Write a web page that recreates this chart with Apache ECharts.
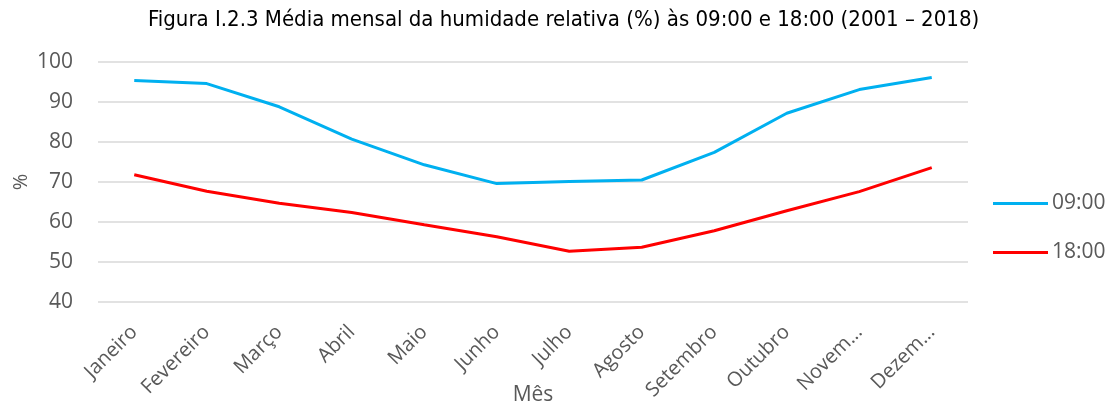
<!DOCTYPE html>
<html>
<head>
<meta charset="utf-8">
<script src="https://cdn.jsdelivr.net/npm/echarts@6/dist/echarts.min.js"></script>
<style>html,body{margin:0;padding:0;background:#fff;overflow:hidden}#c{width:1114px;height:405px}</style>
</head>
<body>
<div id="c"></div>
<script>
const categories = ['Janeiro','Fevereiro','Março','Abril','Maio','Junho','Julho','Agosto','Setembro','Outubro','Novembro','Dezembro'];
const tickLabels = ['Janeiro','Fevereiro','Março','Abril','Maio','Junho','Julho','Agosto','Setembro','Outubro','Novem...','Dezem...'];
const h0900 = [95.4, 94.6, 88.8, 80.7, 74.3, 69.6, 70.1, 70.5, 77.4, 87.2, 93.1, 96.1];
const h1800 = [71.8, 67.7, 64.7, 62.4, 59.3, 56.3, 52.7, 53.7, 57.8, 62.8, 67.6, 73.6];
const seriesNames = ['09:00', '18:00'];
const titleText = 'Figura I.2.3 Média mensal da humidade relativa (%) às 09:00 e 18:00 (2001 – 2018)';

const FONT = '"Open Sans", "Noto Sans", sans-serif';
const TFONT = '"DejaVu Sans Condensed", "Open Sans", sans-serif';
const chart = echarts.init(document.getElementById('c'), null, {width: 1114, height: 405});
chart.setOption({
  animation: false,
  textStyle: {fontFamily: FONT},
  title: {
    text: titleText, left: 148, top: 9, padding: 0,
    textStyle: {fontFamily: TFONT, fontSize: 22, fontWeight: 'normal', color: '#000'}
  },
  grid: {left: 98, width: 870, top: 62, height: 240, containLabel: false, outerBoundsMode: 'none'},
  legend: {
    orient: 'vertical', left: 993, top: 193, itemGap: 28, padding: 0,
    icon: 'rect', itemWidth: 55, itemHeight: 3,
    textStyle: {fontFamily: FONT, fontSize: 21, color: '#595959', padding: [0, 0, 0, -1]},
    data: seriesNames
  },
  xAxis: {
    type: 'category', data: categories, boundaryGap: true,
    axisLine: {show: false}, axisTick: {show: false},
    axisLabel: {
      rotate: 45, fontSize: 20, color: '#595959', margin: 27, interval: 0,
      formatter: (v, i) => tickLabels[i]
    },
    name: 'Mês', nameLocation: 'middle', nameGap: 83, nameMoveOverlap: false,
    nameTextStyle: {fontFamily: FONT, fontSize: 21, color: '#595959'}
  },
  yAxis: {
    type: 'value', min: 40, max: 100, interval: 10,
    axisLine: {show: false}, axisTick: {show: false},
    axisLabel: {fontSize: 21, color: '#595959', margin: 25},
    splitLine: {lineStyle: {color: '#d9d9d9', width: 1.5}},
    name: '%', nameLocation: 'middle', nameGap: 67, nameRotate: 90, nameMoveOverlap: false,
    nameTextStyle: {fontFamily: FONT, fontSize: 20, color: '#595959'}
  },
  series: [
    {name: seriesNames[0], type: 'line', data: h0900, showSymbol: false, symbol: 'none',
     lineStyle: {color: '#00b0f0', width: 3}, itemStyle: {color: '#00b0f0'}},
    {name: seriesNames[1], type: 'line', data: h1800, showSymbol: false, symbol: 'none',
     lineStyle: {color: '#ff0000', width: 3}, itemStyle: {color: '#ff0000'}}
  ]
});
</script>
</body>
</html>
